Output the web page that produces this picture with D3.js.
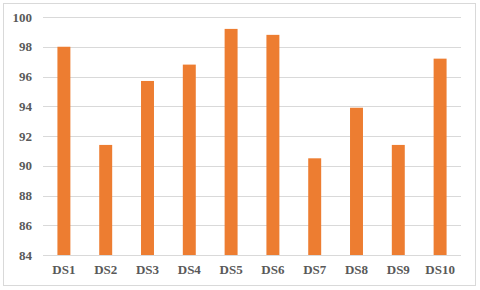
<!DOCTYPE html>
<html>
<head>
<meta charset="utf-8">
<script src="https://cdn.jsdelivr.net/npm/d3@7"></script>
<style>
  body { margin: 0; background: #fff; }
  svg text { font-family: "Liberation Serif", "Times New Roman", serif; font-weight: bold; fill: #595959; }
</style>
</head>
<body>
<svg id="chart" width="480" height="290"></svg>
<script>
    const categories = ["DS1", "DS2", "DS3", "DS4", "DS5", "DS6", "DS7", "DS8", "DS9", "DS10"]
    const values = [98.0, 91.4, 95.7, 96.8, 99.2, 98.8, 90.5, 93.9, 91.4, 97.2]
    const yTicks = [84, 86, 88, 90, 92, 94, 96, 98, 100]

    const svg = d3.select("#chart")
    const margin = { top: 17, right: 19, bottom: 35, left: 43 }
    const width = 480 - margin.left - margin.right
    const height = 290 - margin.top - margin.bottom

    // outer chart border
    svg.append("rect")
        .attr("x", 3.5).attr("y", 3.5)
        .attr("width", 472).attr("height", 282)
        .attr("fill", "none")
        .attr("stroke", "#d9d9d9")

    const g = svg.append("g").attr("transform", `translate(${margin.left},${margin.top})`)

    const x = d3.scaleBand().domain(categories).range([0, width]).paddingInner(0.69).paddingOuter(0.345)
    const y = d3.scaleLinear().domain([84, 100]).range([height, 0])

    g.selectAll("line.grid")
        .data(yTicks)
        .enter()
        .append("line")
        .attr("class", "grid")
        .attr("x1", 0).attr("x2", width)
        .attr("y1", d => Math.round(y(d)) + 0.5)
        .attr("y2", d => Math.round(y(d)) + 0.5)
        .attr("stroke", "#d9d9d9")
        .attr("stroke-width", 1)

    g.selectAll("rect.bar")
        .data(values)
        .enter()
        .append("rect")
        .attr("class", "bar")
        .attr("x", (d, i) => x(categories[i]))
        .attr("width", x.bandwidth())
        .attr("y", d => y(d))
        .attr("height", d => y(84) - y(d))
        .attr("fill", "#ed7d31")

    const yAxis = g.append("g")
        .call(d3.axisLeft(y).tickValues(yTicks).tickSize(0).tickPadding(11))
    yAxis.select(".domain").remove()
    yAxis.selectAll("text").style("font-size", "13px")

    const xAxis = g.append("g")
        .attr("transform", `translate(0,${height})`)
        .call(d3.axisBottom(x).tickSize(0).tickPadding(10))
    xAxis.select(".domain").remove()
    xAxis.selectAll("text").style("font-size", "13px")
</script>
</body>
</html>
